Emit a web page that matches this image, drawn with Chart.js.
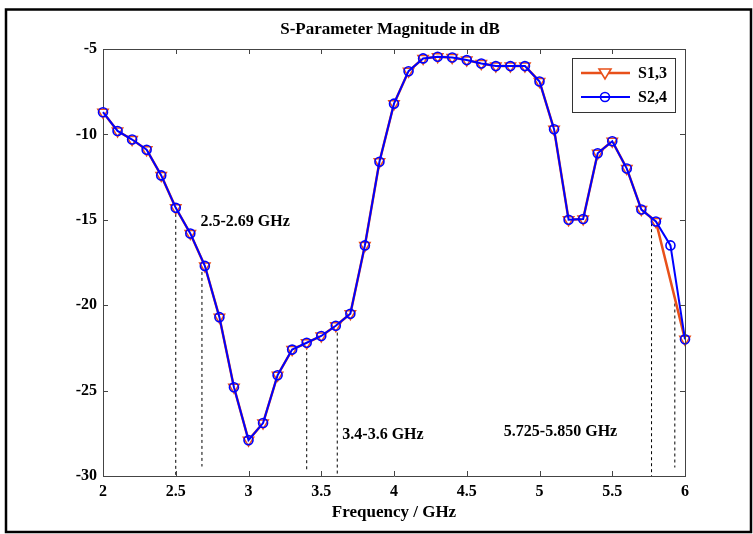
<!DOCTYPE html>
<html><head><meta charset="utf-8">
<script src="https://cdn.jsdelivr.net/npm/chart.js@4.4.1/dist/chart.umd.min.js"></script>
<style>html,body{margin:0;padding:0;background:#fff}canvas{display:block}</style>
</head><body><canvas id="c" width="753" height="534"></canvas>
<script>
const freq = [2.0,2.1,2.2,2.3,2.4,2.5,2.6,2.7,2.8,2.9,3.0,3.1,3.2,3.3,3.4,3.5,3.6,3.7,3.8,3.9,4.0,4.1,4.2,4.3,4.4,4.5,4.6,4.7,4.8,4.9,5.0,5.1,5.2,5.3,5.4,5.5,5.6,5.7,5.8,5.9,6.0];
const s13 = [-8.7,-9.8,-10.3,-10.9,-12.4,-14.3,-15.8,-17.7,-20.7,-24.8,-27.9,-26.9,-24.1,-22.6,-22.2,-21.8,-21.2,-20.5,-16.5,-11.6,-8.2,-6.3,-5.55,-5.45,-5.5,-5.65,-5.85,-6.0,-6.0,-6.0,-6.9,-9.7,-15.0,-14.95,-11.1,-10.4,-12.0,-14.4,-15.1,null,-22.0];
const s24 = [-8.7,-9.8,-10.3,-10.9,-12.4,-14.3,-15.8,-17.7,-20.7,-24.8,-27.9,-26.9,-24.1,-22.6,-22.2,-21.8,-21.2,-20.5,-16.5,-11.6,-8.2,-6.3,-5.55,-5.45,-5.5,-5.65,-5.85,-6.0,-6.0,-6.0,-6.9,-9.7,-15.0,-14.95,-11.1,-10.4,-12.0,-14.4,-15.1,-16.5,-22.0];
const xTicks = [2,2.5,3,3.5,4,4.5,5,5.5,6];
const xTickLabels = ["2","2.5","3","3.5","4","4.5","5","5.5","6"];
const yTicks = [-30,-25,-20,-15,-10,-5];
const yTickLabels = ["-30","-25","-20","-15","-10","-5"];
const seriesNames = ["S1,3","S2,4"];
const bandLineX = [2.5,2.68,3.4,3.61,5.77,5.93];
const bandLineTop = [-14.3,-17.7,-22.4,-21.25,-15.2,-19.9];
const bandLineBottom = [-30,-29.45,-29.6,-30,-30,-29.5];
const bandLabels = ["2.5-2.69 GHz","3.4-3.6 GHz","5.725-5.850 GHz"];
const bandLabelX = [2.67,3.645,4.755];
const bandLabelY = [-15.13,-27.6,-27.42];
const titleText = "S-Parameter Magnitude in dB";
const xTitle = "Frequency / GHz";

const ORANGE = '#E8501A', BLUE = '#0000FF', AX = '#444';
const FONT = '"Liberation Serif", "Times New Roman", serif';

const datasets = [
  {label: seriesNames[1], data: freq.map((f,i)=>({x:f,y:s24[i]})), borderColor: BLUE, borderWidth: 2, clip:false,
   pointStyle:'circle', pointRadius:4.5, pointBorderWidth:1.6, pointBorderColor: BLUE, pointBackgroundColor:'rgba(0,0,0,0)', order:1},
  {label: seriesNames[0], data: freq.map((f,i)=>({x:f,y:s13[i]})), borderColor: ORANGE, borderWidth: 2.5, spanGaps:true, clip:false,
   pointStyle:'triangle', pointRotation:180, pointRadius:6, pointBorderWidth:1.5, pointBorderColor: ORANGE, pointBackgroundColor:'#fff', order:2}
];
bandLineX.forEach((x,i)=>{
  datasets.push({label:'band'+i, data:[{x:x,y:bandLineTop[i]},{x:x,y:bandLineBottom[i]}], borderColor:'#000', borderWidth:1,
    borderDash:[3,3], pointRadius:0, order:3});
});

const decor = {
  id:'decor',
  afterDraw(chart){
    const c = chart.ctx, a = chart.chartArea, xs = chart.scales.x, ys = chart.scales.y;
    c.save();
    c.strokeStyle = '#000'; c.lineWidth = 2.5;
    c.strokeRect(6, 9.5, 745, 522.5);
    c.strokeStyle = AX; c.lineWidth = 1;
    c.beginPath();
    c.moveTo(a.left, a.top+0.5); c.lineTo(a.right+0.5, a.top+0.5);
    c.moveTo(a.right+0.5, a.top); c.lineTo(a.right+0.5, a.bottom);
    xTicks.forEach(v=>{ const px = Math.round(xs.getPixelForValue(v))+0.5;
      c.moveTo(px, a.bottom); c.lineTo(px, a.bottom-5);
      c.moveTo(px, a.top); c.lineTo(px, a.top+5); });
    yTicks.forEach(v=>{ const py = Math.round(ys.getPixelForValue(v))+0.5;
      c.moveTo(a.left, py); c.lineTo(a.left+5, py);
      c.moveTo(a.right, py); c.lineTo(a.right-5, py); });
    c.stroke();
    c.fillStyle = '#000';
    c.font = 'bold 17px ' + FONT;
    c.textAlign = 'center'; c.textBaseline = 'middle';
    c.fillText(titleText, 390, 30);
    c.font = 'bold 16px ' + FONT;
    c.textAlign = 'left';
    bandLabels.forEach((t,i)=>{
      c.fillText(t, xs.getPixelForValue(bandLabelX[i]), ys.getPixelForValue(bandLabelY[i]));
    });
    const lx = 572, ly = 58, lw = 103, lh = 54;
    c.fillStyle = '#fff'; c.fillRect(lx, ly, lw, lh);
    c.strokeStyle = '#333'; c.lineWidth = 1; c.strokeRect(lx+0.5, ly+0.5, lw, lh);
    const rows = [{y:73, col:ORANGE, name:seriesNames[0], tri:true},{y:97, col:BLUE, name:seriesNames[1], tri:false}];
    rows.forEach(r=>{
      c.strokeStyle = r.col; c.lineWidth = r.tri ? 2.5 : 2;
      c.beginPath(); c.moveTo(581, r.y); c.lineTo(630, r.y); c.stroke();
      c.lineWidth = 1.6;
      if (r.tri){
        c.fillStyle = '#fff';
        c.beginPath(); c.moveTo(599, r.y-4); c.lineTo(611, r.y-4); c.lineTo(605, r.y+6); c.closePath(); c.fill(); c.stroke();
      } else {
        c.beginPath(); c.arc(605, r.y, 4.5, 0, Math.PI*2); c.stroke();
      }
      c.fillStyle = '#000'; c.font = 'bold 16px ' + FONT; c.textAlign = 'left'; c.textBaseline = 'middle';
      c.fillText(r.name, 638, r.y+1);
    });
    c.restore();
  }
};

new Chart(document.getElementById('c'), {
  type:'line',
  data:{datasets},
  options:{
    responsive:false, animation:false, devicePixelRatio:1,
    layout:{padding:{top:49,right:68,left:0,bottom:0}},
    plugins:{legend:{display:false}, tooltip:{enabled:false}, title:{display:false}},
    scales:{
      x:{type:'linear', min:2, max:6,
        afterFit(s){ s.height = 58; },
        afterBuildTicks(s){ s.ticks = xTicks.map(v=>({value:v})); },
        grid:{display:false, drawTicks:false, tickLength:0},
        border:{display:true, color:AX, width:1},
        ticks:{color:'#000', padding:6, autoSkip:false, maxRotation:0, font:{family:FONT, size:16, weight:'bold'},
          callback:(v,i)=>xTickLabels[i]},
        title:{display:true, text:xTitle, color:'#000', font:{family:FONT, size:17, weight:'bold'}, padding:{top:0,bottom:11}}
      },
      y:{type:'linear', min:-30, max:-5,
        afterFit(s){ s.width = 103; },
        afterBuildTicks(s){ s.ticks = yTicks.map(v=>({value:v})); },
        grid:{display:false, drawTicks:false, tickLength:0},
        border:{display:true, color:AX, width:1},
        ticks:{color:'#000', padding:6, font:{family:FONT, size:16, weight:'bold'},
          callback:(v,i)=>yTickLabels[i]}
      }
    }
  },
  plugins:[decor]
});
</script>
</body></html>
